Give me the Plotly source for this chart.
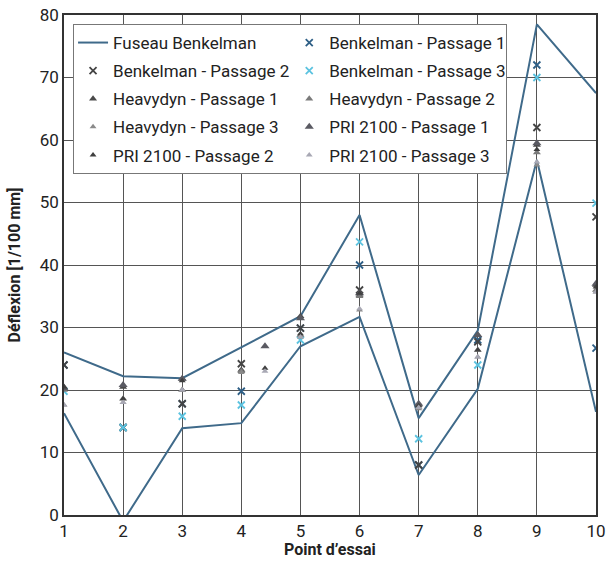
import plotly.graph_objects as go

points = [1, 2, 3, 4, 5, 6, 7, 8, 9, 10]
x_ticks = [1, 2, 3, 4, 5, 6, 7, 8, 9, 10]
y_ticks = [0, 10, 20, 30, 40, 50, 60, 70, 80]

fuseau_haut = [26, 22.2, 21.9, 26.8, 31.8, 48, 15.5, 29.5, 78.5, 67.5]
fuseau_bas = [16.3, -1, 13.9, 14.7, 27, 31.7, 6.4, 20.2, 56.8, 16.5]

benk_p1 = [24, 14, 17.8, 19.8, 29.9, 40, 8, 28, 72, 26.7]
benk_p2 = [24, 14, 17.8, 24.2, 29.9, 36, 8, 27.7, 62, 47.7]
benk_p3 = [19.8, 14, 15.8, 17.6, 28, 43.7, 12.2, 24, 70, 49.9]

heavy_p1 = [20.5, 20.5, 21.8, 23.2, 31.8, 35.2, 17.6, 28.8, 59.2, 36.8]
heavy_p2 = [20, 18.6, 20, 23, 28.8, 35, 17.2, 26.4, 58, 36]
heavy_p3 = [17.6, 18, 20, 22.8, 28.5, 32.8, 17, 25.3, 56, 35.7]

pri_x = [1, 2, 3, 4.4, 5, 6, 7, 8, 9, 10]
pri_p1 = [20.3, 20.8, 21.8, 27, 31.5, 35.5, 17.8, 28.8, 59.5, 37]
pri_p2 = [20.5, 18.6, 21.5, 23.5, 29, 35.5, 17.5, 26.4, 58.5, 36.5]
pri_p3 = [17.6, 18, 20, 23, 28.5, 33, 17.2, 25.3, 56.5, 35.7]

line_col = "#3f6a8a"
fig = go.Figure()

fig.add_trace(go.Scatter(x=points, y=fuseau_haut, mode="lines", name="Fuseau Benkelman",
                         line=dict(color=line_col, width=2), legendgroup="f"))
fig.add_trace(go.Scatter(x=points, y=fuseau_bas, mode="lines", name="Fuseau Benkelman",
                         line=dict(color=line_col, width=2), legendgroup="f", showlegend=False))

def mk(x, y, name, symbol, color, size):
    line = dict(width=1.8, color=color) if symbol == "x-thin" else dict(width=0)
    fig.add_trace(go.Scatter(x=x, y=y, mode="markers", name=name,
                             marker=dict(symbol=symbol, color=color, size=size, line=line)))

mk(points, benk_p1, "Benkelman - Passage 1", "x-thin", "#2e5f86", 7)
mk(points, benk_p2, "Benkelman - Passage 2", "x-thin", "#444444", 7)
mk(points, benk_p3, "Benkelman - Passage 3", "x-thin", "#5cc3e0", 7)
mk(points, heavy_p1, "Heavydyn - Passage 1", "triangle-up", "#4a4a4a", 7)
mk(points, heavy_p2, "Heavydyn - Passage 2", "triangle-up", "#7a7a7a", 7)
mk(points, heavy_p3, "Heavydyn - Passage 3", "triangle-up", "#8a8a8a", 6)
mk(pri_x, pri_p1, "PRI 2100 - Passage 1", "triangle-up", "#5a5a62", 8)
mk(pri_x, pri_p2, "PRI 2100 - Passage 2", "triangle-up", "#3f3f3f", 6)
mk(pri_x, pri_p3, "PRI 2100 - Passage 3", "triangle-up", "#a8a8b4", 6)

axis_common = dict(showgrid=True, gridcolor="#555555", gridwidth=1,
                   showline=True, linecolor="#333333", linewidth=1.5, mirror=True,
                   zeroline=False, ticks="", automargin=False,
                   tickfont=dict(size=17, color="#222222"))

fig.update_layout(
    width=614, height=561,
    margin=dict(l=64, r=18, t=15, b=46),
    paper_bgcolor="white", plot_bgcolor="white",
    font=dict(family="Roboto, Open Sans, sans-serif", color="#222222"),
    xaxis=dict(range=[1, 10], tickvals=x_ticks, ticktext=[str(v) for v in x_ticks],
               **axis_common),
    yaxis=dict(range=[0, 80], tickvals=y_ticks, ticktext=[str(v) for v in y_ticks],
               title=dict(text="<b>Déflexion [1/100 mm]</b>", font=dict(size=16)),
               **axis_common),
    legend=dict(orientation="h", x=0.017, y=0.982, xanchor="left", yanchor="top",
                entrywidth=0.397, entrywidthmode="fraction",
                bgcolor="white", bordercolor="#777777", borderwidth=1,
                tracegroupgap=3,
                font=dict(size=17, color="#222222")),
    annotations=[dict(text="<b>Point d’essai</b>", xref="paper", yref="paper",
                      x=0.5, y=-0.068, xanchor="center", yanchor="middle",
                      showarrow=False, font=dict(size=16, color="#222222"))],
)

fig.write_html("out.html", config={"displayModeBar": False},
               post_script="document.body.style.margin='0';")
